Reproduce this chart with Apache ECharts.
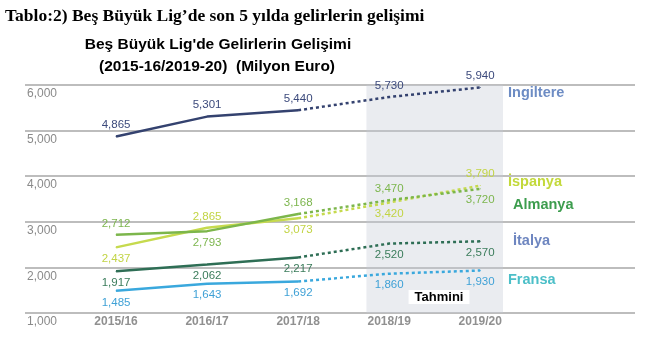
<!DOCTYPE html>
<html>
<head>
<meta charset="utf-8">
<script src="https://cdn.jsdelivr.net/npm/echarts@6/dist/echarts.min.js"></script>
<style>html,body{margin:0;padding:0;background:#fff;}#c{width:650px;height:359px;}</style>
</head>
<body>
<div id="c"></div>
<script>
// ---- data ----
const categories = ['2015/16', '2016/17', '2017/18', '2018/19', '2019/20'];
const ingiltere = [4865, 5301, 5440, 5730, 5940];
const ispanya   = [2437, 2865, 3073, 3420, 3790];
const almanya   = [2712, 2793, 3168, 3470, 3720];
const italya    = [1917, 2062, 2217, 2520, 2570];
const fransa    = [1485, 1643, 1692, 1860, 1930];
const yTicks = [1000, 2000, 3000, 4000, 5000, 6000];
const lastActualIndex = 2;          // 2017/18 is the last actual season
const forecastBand = [2.75, 4.25];  // shaded "Tahmini" band around 2018/19-2019/20

// ---- layout / style (not data) ----
const labelPlaces = {
  ingiltere: ['top', 'top', 'top', 'top', 'top'],
  ispanya: ['bottom', 'top', 'bottom', 'bottom', 'top'],
  almanya: ['top', 'bottom', 'top', 'top', 'bottom'],
  italya: ['bottom', 'bottom', 'bottom', 'bottom', 'bottom'],
  fransa: ['bottom', 'bottom', 'bottom', 'bottom', 'bottom']
};
const FONT = 'Liberation Sans, Arial, sans-serif';
const fmt = v => String(v).replace(/\B(?=(\d{3})+(?!\d))/g, ',');

function buildSeries(name, values, lineColor, labelColor, places, extra) {
  const pt = (i, showLabel) => ({
    value: [i, values[i]],
    label: { show: showLabel, position: places[i] }
  });
  const common = {
    type: 'line',
    symbol: 'circle',
    symbolSize: 1,
    itemStyle: { color: lineColor },
    label: {
      color: labelColor, fontSize: 11.5, fontFamily: FONT,
      formatter: p => fmt(p.value[1])
    },
    silent: true,
    z: 3
  };
  const solid = Object.assign({}, common, {
    name: name,
    lineStyle: { color: lineColor, width: 2.5 },
    data: values.slice(0, lastActualIndex + 1).map((v, i) => pt(i, true))
  });
  const dotted = Object.assign({}, common, {
    name: name + ' (tahmini)',
    lineStyle: { color: lineColor, width: 2.5, type: [3, 3] },
    data: values.slice(lastActualIndex).map((v, k) => pt(k + lastActualIndex, k > 0))
  }, extra || {});
  return [solid, dotted];
}

const series = [].concat(
  buildSeries('İngiltere', ingiltere, '#34426f', '#3c4a7c', labelPlaces.ingiltere, {
    markArea: {
      silent: true,
      itemStyle: { color: 'rgba(196,202,214,0.36)' },
      data: [[{ xAxis: forecastBand[0] }, { xAxis: forecastBand[1] }]]
    }
  }),
  buildSeries('İspanya', ispanya, '#c6da4e', '#c2d444', labelPlaces.ispanya),
  buildSeries('Almanya', almanya, '#7cb64b', '#7db64e', labelPlaces.almanya),
  buildSeries('İtalya', italya, '#2e6e55', '#3b7c5b', labelPlaces.italya),
  buildSeries('Fransa', fransa, '#3aa8dd', '#3fa1d6', labelPlaces.fransa)
);

const chart = echarts.init(document.getElementById('c'), null, { renderer: 'canvas' });
chart.setOption({
  animation: false,
  backgroundColor: '#fff',
  grid: { left: 25, right: 15, top: 84.7, bottom: 46, outerBoundsMode: 'none', containLabel: false },
  xAxis: {
    type: 'value',
    min: -1, max: 5.7, interval: 1,
    axisLine: { show: false }, axisTick: { show: false }, splitLine: { show: false },
    axisLabel: {
      margin: 3, color: '#909090', fontSize: 12, fontWeight: 'bold', fontFamily: FONT,
      showMaxLabel: false, showMinLabel: false,
      formatter: v => categories[v] || ''
    }
  },
  yAxis: {
    type: 'value',
    min: yTicks[0], max: yTicks[yTicks.length - 1], interval: yTicks[1] - yTicks[0],
    axisLine: { show: false }, axisTick: { show: false },
    splitLine: { lineStyle: { color: '#bdbdbd', width: 2 } },
    axisLabel: {
      inside: true, margin: 2, align: 'left', verticalAlign: 'top', padding: [3, 0, 0, 0],
      color: '#8a8a8a', fontSize: 12, fontFamily: FONT,
      formatter: v => fmt(v)
    }
  },
  series: series,
  graphic: [
    { type: 'text', left: 5, top: 7, silent: true,
      style: { text: 'Tablo:2) Beş Büyük Lig’de son 5 yılda gelirlerin gelişimi', fill: '#000',
        font: 'bold 17.5px "Liberation Serif", "Times New Roman", serif' } },
    { type: 'text', x: 218, y: 44.6, silent: true,
      style: { text: "Beş Büyük Lig'de Gelirlerin Gelişimi", fill: '#000', align: 'center', verticalAlign: 'middle',
        font: 'bold 15.5px "Liberation Sans", Arial, sans-serif' } },
    { type: 'text', x: 217, y: 66.3, silent: true,
      style: { text: '(2015-16/2019-20)  (Milyon Euro)', fill: '#000', align: 'center', verticalAlign: 'middle',
        font: 'bold 15.5px "Liberation Sans", Arial, sans-serif' } },
    { type: 'text', x: 508, y: 93, silent: true,
      style: { text: 'İngiltere', fill: '#6d8cc4', verticalAlign: 'middle', font: 'bold 14.5px "Liberation Sans", Arial, sans-serif' } },
    { type: 'text', x: 508, y: 182, silent: true,
      style: { text: 'İspanya', fill: '#c3d93b', verticalAlign: 'middle', font: 'bold 14.5px "Liberation Sans", Arial, sans-serif' } },
    { type: 'text', x: 513, y: 205, silent: true,
      style: { text: 'Almanya', fill: '#3d9d4e', verticalAlign: 'middle', font: 'bold 14.5px "Liberation Sans", Arial, sans-serif' } },
    { type: 'text', x: 513, y: 240.5, silent: true,
      style: { text: 'İtalya', fill: '#6e86c0', verticalAlign: 'middle', font: 'bold 14.5px "Liberation Sans", Arial, sans-serif' } },
    { type: 'text', x: 508, y: 280, silent: true,
      style: { text: 'Fransa', fill: '#4cbfc8', verticalAlign: 'middle', font: 'bold 14.5px "Liberation Sans", Arial, sans-serif' } },
    { type: 'text', x: 439, y: 297, silent: true, z: 10,
      style: { text: 'Tahmini', fill: '#000', align: 'center', verticalAlign: 'middle',
        backgroundColor: '#fff', padding: [1, 6, 0, 6],
        font: 'bold 13px "Liberation Sans", Arial, sans-serif' } }
  ]
});
</script>
</body>
</html>
